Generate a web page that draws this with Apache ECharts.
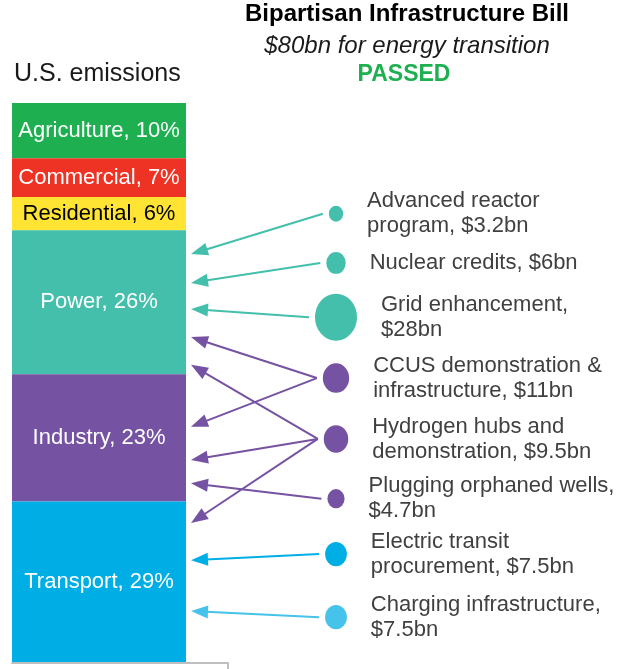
<!DOCTYPE html>
<html><head><meta charset="utf-8">
<script src="https://cdn.jsdelivr.net/npm/echarts@6/dist/echarts.min.js"></script>
<style>html,body{margin:0;padding:0;background:#fff}#c{width:620px;height:669px}</style>
</head><body><div id="c"></div>
<script>
// ---------- data ----------
const sectors = ['Agriculture', 'Commercial', 'Residential', 'Power', 'Industry', 'Transport'];
const sectorShares = [10, 7, 6, 26, 23, 29];
const programs = ['Advanced reactor\nprogram', 'Nuclear credits', 'Grid enhancement',
  'CCUS demonstration &\ninfrastructure', 'Hydrogen hubs and\ndemonstration',
  'Plugging orphaned wells', 'Electric transit\nprocurement', 'Charging infrastructure'];
const programAmounts = [3.2, 6, 28, 11, 9.5, 4.7, 7.5, 7.5];
// which sector each program's funding points to (program index, sector)
const links = [[0, 'Power'], [1, 'Power'], [2, 'Power'], [3, 'Power'], [3, 'Industry'],
  [4, 'Power'], [4, 'Industry'], [4, 'Transport'], [5, 'Industry'], [6, 'Transport'], [7, 'Transport']];

// ---------- layout / style ----------
const FONT = '"Liberation Sans", Arial, sans-serif';
const sectorColors = ['#1EB050', '#EE3224', '#FFE434', '#43BFAB', '#7553A2', '#00AEE6'];
const sectorText = ['#fff', '#fff', '#000', '#fff', '#fff', '#fff'];
const programColors = ['#43BFAB', '#43BFAB', '#43BFAB', '#7553A2', '#7553A2', '#7553A2', '#00AEE6', '#45C3EA'];
const rowY = [20.0, 28.9, 38.7, 49.7, 60.7, 71.5, 81.5, 92.9];           // bubble rows on the % axis
const linkTargetY = [27.3, 32.5, 37.2, 42.3, 58.5, 47.3, 64.5, 75.9, 68.7, 82.6, 91.8];
const bubbleW = v => 7.94 * Math.sqrt(v);

const cum = []; let acc = 0;
sectorShares.forEach(v => { cum.push([acc, acc + v]); acc += v; });
const total = acc;

const labels = programs.map((p, i) => {
  const sep = (p.indexOf('\n') < 0 && p.length > 15) ? ',\n' : ', ';
  return p + sep + '$' + programAmounts[i] + 'bn';
});

const chart = echarts.init(document.getElementById('c'), null, {renderer: 'canvas'});
chart.setOption({
  animation: false,
  backgroundColor: '#fff',
  grid: [
    {left: 12, top: 103, width: 216, height: 560},
    {left: 186, top: 103, width: 300, height: 559}
  ],
  xAxis: [
    {gridIndex: 0, type: 'value', min: 0, max: 216 / 174, position: 'bottom',
      axisLine: {show: true, onZero: false, lineStyle: {color: '#BFBFBF', width: 2}},
      axisTick: {show: true, customValues: [216 / 174], length: 6, lineStyle: {color: '#BFBFBF', width: 2}},
      axisLabel: {show: false}, splitLine: {show: false}},
    {gridIndex: 1, type: 'value', min: 0, max: 2, show: false}
  ],
  yAxis: [
    {gridIndex: 0, type: 'value', min: 0, max: total + 0.18, inverse: true, show: false},
    {gridIndex: 1, type: 'value', min: 0, max: total, inverse: true, show: false}
  ],
  graphic: [
    {type: 'text', x: 14, y: 74, style: {text: 'U.S. emissions', font: '25px ' + FONT, fill: '#1a1a1a', verticalAlign: 'middle'}},
    {type: 'text', x: 407, y: 14, style: {text: 'Bipartisan Infrastructure Bill', font: 'bold 24px ' + FONT, fill: '#000', align: 'center', verticalAlign: 'middle'}},
    {type: 'text', x: 407, y: 46, style: {text: '$80bn for energy transition', font: 'italic 24px ' + FONT, fill: '#1a1a1a', align: 'center', verticalAlign: 'middle'}},
    {type: 'text', x: 404, y: 75, style: {text: 'PASSED', font: 'bold 23px ' + FONT, fill: '#1EB050', align: 'center', verticalAlign: 'middle'}}
  ],
  series: [
    {
      type: 'custom', xAxisIndex: 0, yAxisIndex: 0,
      encode: {x: 0, y: [1, 2]},
      data: sectors.map((s, i) => [0, cum[i][0], cum[i][1], i]),
      renderItem: (params, api) => {
        const i = api.value(3);
        const p0 = api.coord([0, api.value(1)]);
        const p1 = api.coord([1, api.value(2)]);
        return {
          type: 'rect',
          shape: {x: p0[0], y: p0[1], width: p1[0] - p0[0], height: p1[1] - p0[1]},
          style: {fill: sectorColors[i]},
          textContent: {style: {text: sectors[i] + ', ' + sectorShares[i] + '%', fill: sectorText[i], font: '22px ' + FONT}},
          textConfig: {position: 'inside'}
        };
      }
    },
    {
      type: 'custom', xAxisIndex: 1, yAxisIndex: 1,
      encode: {x: [0, 2], y: [1, 3]},
      data: links.map((l, k) => [1, rowY[l[0]], 0, linkTargetY[k], l[0]]),
      renderItem: (params, api) => {
        const p = api.value(4);
        const a = api.coord([api.value(0), api.value(1)]);
        a[0] -= bubbleW(programAmounts[p]) / 2 + 6;
        const b = api.coord([api.value(2), api.value(3)]);
        b[0] += 5;
        const color = programColors[p];
        const dx = b[0] - a[0], dy = b[1] - a[1], L = Math.hypot(dx, dy), ux = dx / L, uy = dy / L;
        const hl = 17, hw = 6.5;
        const base = [b[0] - ux * hl, b[1] - uy * hl];
        return {type: 'group', children: [
          {type: 'line', shape: {x1: a[0], y1: a[1], x2: base[0] + ux * 2, y2: base[1] + uy * 2}, style: {stroke: color, lineWidth: 2}},
          {type: 'polygon', shape: {points: [b, [base[0] - uy * hw, base[1] + ux * hw], [base[0] + uy * hw, base[1] - ux * hw]]}, style: {fill: color}}
        ]};
      }
    },
    {
      type: 'scatter', xAxisIndex: 1, yAxisIndex: 1,
      data: programs.map((p, i) => ({value: [1, rowY[i], programAmounts[i]], itemStyle: {color: programColors[i], opacity: 1}})),
      symbolSize: v => { const w = bubbleW(v[2]); return [w, w * 1.12]; },
      label: {show: true, position: 'right', distance: 24, formatter: prm => labels[prm.dataIndex],
        color: '#404040', fontSize: 22, lineHeight: 25, fontFamily: FONT}
    }
  ]
});
</script>
</body></html>
